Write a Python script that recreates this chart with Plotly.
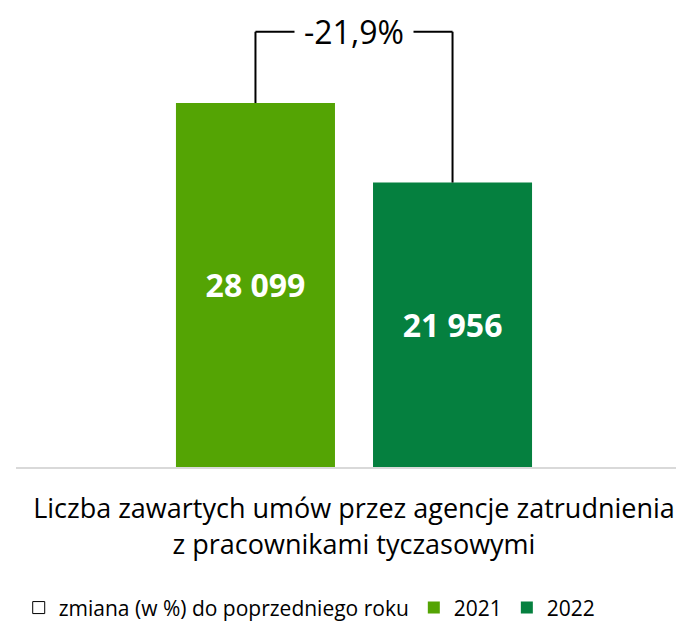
import plotly.graph_objects as go

# data
category = "Liczba zawartych umów przez agencje zatrudnienia<br>z pracownikami tyczasowymi"
years = ["2021", "2022"]
values = [28099, 21956]
colors = ["#54A404", "#05803F"]
change_label = "zmiana (w %) do poprzedniego roku"

FONT = "Open Sans, sans-serif"
bargap = 0.417
bargroupgap = 0.193
bracket_level = 33600

change = (values[1] - values[0]) / values[0] * 100
change_text = f"{change:.1f}%".replace(".", ",")

fig = go.Figure()

# legend-only entry for the change bracket
fig.add_trace(go.Bar(
    x=[None], y=[None], name=change_label,
    marker=dict(color="white", line=dict(color="black", width=1)),
    xaxis="x2", yaxis="y2", legendrank=1,
))

for i, (yr, val, col) in enumerate(zip(years, values, colors)):
    fig.add_trace(go.Bar(
        x=[category], y=[val], name=yr,
        marker=dict(color=col, line=dict(width=0)),
        texttemplate="<b>%{y:,.0f}</b>",
        textposition="inside", insidetextanchor="middle",
        textfont=dict(color="white", size=32, family=FONT),
        legendrank=2 + i,
    ))

# bracket between the two bars
off = (1 - bargap) / 4
xs = [-off, off]
line_style = dict(color="black", width=2)
fig.add_shape(type="line", xref="x", yref="y", x0=xs[0], x1=xs[0],
              y0=values[0], y1=bracket_level, line=line_style)
fig.add_shape(type="line", xref="x", yref="y", x0=xs[1], x1=xs[1],
              y0=values[1], y1=bracket_level, line=line_style)
fig.add_shape(type="line", xref="x", yref="y", x0=xs[0], x1=xs[1],
              y0=bracket_level, y1=bracket_level, line=line_style)
fig.add_annotation(x=0, y=bracket_level, xref="x", yref="y", text=change_text,
                   showarrow=False, bgcolor="white", borderpad=9,
                   font=dict(size=32, color="black", family=FONT))

fig.update_layout(
    width=684, height=621,
    margin=dict(l=8, r=0, t=0, b=162),
    plot_bgcolor="white", paper_bgcolor="white",
    barmode="group", bargap=bargap, bargroupgap=bargroupgap,
    separators=", ",
    font=dict(family=FONT, color="black"),
    xaxis=dict(
        type="category", range=[-0.5, 0.5],
        showline=True, linecolor="#d9d9d9", linewidth=2,
        ticks="", tickfont=dict(size=27, color="black"),
        ticklabelstandoff=17, fixedrange=True,
    ),
    yaxis=dict(range=[0, 35432], visible=False, showgrid=False, fixedrange=True),
    xaxis2=dict(overlaying="x", visible=False),
    yaxis2=dict(overlaying="y", visible=False),
    legend=dict(
        orientation="h", x=0.004, xanchor="left", y=-0.307, yanchor="middle",
        font=dict(size=21, color="black", family=FONT), traceorder="normal",
        itemwidth=30,
    ),
    showlegend=True,
)

fig.write_html("out.html")
